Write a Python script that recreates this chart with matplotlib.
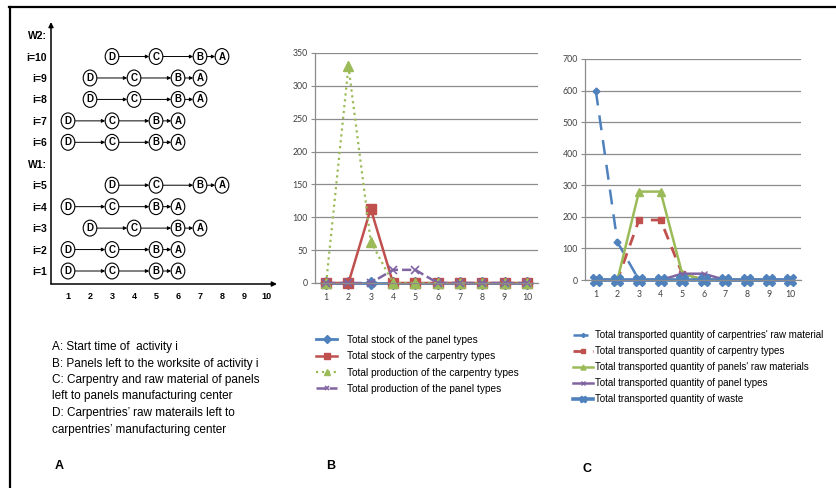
"""Three-panel figure: (A) activity schedule diagram, (B) stock/production,
(C) transported quantities per period."""

import matplotlib
matplotlib.use("Agg")
import matplotlib.pyplot as plt
from matplotlib.patches import Ellipse
from matplotlib.lines import Line2D

# Data ######################################################################

# Panel A: event times (D -> C -> B -> A) for activities i=1..10
activities = ["i=1", "i=2", "i=3", "i=4", "i=5", "i=6", "i=7", "i=8", "i=9", "i=10"]
time_D = [1, 1, 2, 1, 3, 1, 1, 2, 2, 3]
time_C = [3, 3, 4, 3, 5, 3, 3, 4, 4, 5]
time_B = [5, 5, 6, 5, 7, 5, 5, 6, 6, 7]
time_A = [6, 6, 7, 6, 8, 6, 6, 7, 7, 8]
row_labels = ["i=1", "i=2", "i=3", "i=4", "i=5", "W1:",
              "i=6", "i=7", "i=8", "i=9", "i=10", "W2:"]
time_ticks = [1, 2, 3, 4, 5, 6, 7, 8, 9, 10]

legend_A = ("A: Start time of  activity i\n"
            "B: Panels left to the worksite of activity i\n"
            "C: Carpentry and raw material of panels\n"
            "left to panels manufacturing center\n"
            "D: Carpentries\u2019 raw materails left to\n"
            "carpentries\u2019 manufacturing center")

# Panel B
periods = [1, 2, 3, 4, 5, 6, 7, 8, 9, 10]
stock_panel = [0, 0, 0, 0, 0, 0, 0, 0, 0, 0]
stock_carpentry = [0, 0, 113, 0, 0, 0, 0, 0, 0, 0]
prod_carpentry = [0, 330, 63, 0, 0, 0, 0, 0, 0, 0]
prod_panel = [0, 0, 0, 20, 20, 0, 0, 0, 0, 0]

# Panel C
trans_carp_raw = [600, 120, 0, 0, 0, 0, 0, 0, 0, 0]
trans_carp_types = [0, 0, 190, 190, 20, 0, 0, 0, 0, 0]
trans_panel_raw = [0, 0, 280, 280, 20, 0, 0, 0, 0, 0]
trans_panel_types = [0, 0, 0, 0, 20, 20, 0, 0, 0, 0]
trans_waste = [0, 0, 0, 0, 0, 0, 0, 0, 0, 0]

# Layout helpers ############################################################

W, H = 837, 488
fig = plt.figure(figsize=(W / 100, H / 100), dpi=100)


def rect(l, t, r, b):
    return [l / W, 1 - b / H, (r - l) / W, (b - t) / H]


BLUE, RED, GREEN, PURPLE = "#4F81BD", "#C0504D", "#9BBB59", "#8064A2"
ARIAL = ["Liberation Sans", "DejaVu Sans"]
NARROW = ["Liberation Sans Narrow", "Liberation Sans", "DejaVu Sans"]
TICKF = ["Lato", "DejaVu Sans"]

# frame (left and top only)
fig.add_artist(Line2D([9.5 / W, 9.5 / W], [0, 1 - 7 / H], color="black", lw=1.6,
                      transform=fig.transFigure))
fig.add_artist(Line2D([9 / W, 1], [1 - 7 / H, 1 - 7 / H], color="black", lw=1.6,
                      transform=fig.transFigure))

# Panel A ###################################################################

axA = fig.add_axes(rect(51, 22, 277, 284))
axA.set_xlim(0.227, 10.5)
axA.set_ylim(-0.606, 11.61)
for s in axA.spines.values():
    s.set_visible(False)
arrow = dict(arrowstyle="-|>", lw=1.1, color="black", mutation_scale=7,
             shrinkA=0, shrinkB=0)
axA.annotate("", xy=(1, 0), xytext=(0, 0), xycoords="axes fraction", arrowprops=arrow)
axA.annotate("", xy=(0, 1), xytext=(0, 0), xycoords="axes fraction", arrowprops=arrow)
axA.set_xticks(time_ticks)
axA.set_xticklabels([str(t) for t in time_ticks], fontweight="bold",
                    fontsize=6.5, family=ARIAL)
axA.set_yticks(range(len(row_labels)))
axA.set_yticklabels(row_labels, fontweight="bold", fontsize=7.5, family=ARIAL)
axA.tick_params(length=0)
axA.tick_params(axis="x", pad=6)
axA.tick_params(axis="y", pad=3)

rx, ry = 0.62, 0.74
for i, name in enumerate(activities):
    slot = row_labels.index(name)
    events = [(time_D[i], "D"), (time_C[i], "C"), (time_B[i], "B"), (time_A[i], "A")]
    for (x0, _), (x1, _) in zip(events[:-1], events[1:]):
        axA.annotate("", xy=(x1 - rx / 2, slot), xytext=(x0 + rx / 2, slot),
                     arrowprops=dict(arrowstyle="-|>", lw=0.7, color="black",
                                     mutation_scale=5, shrinkA=0, shrinkB=0))
    for x, letter in events:
        axA.add_patch(Ellipse((x, slot), rx, ry, facecolor="white",
                              edgecolor="black", lw=0.8, zorder=3))
        axA.text(x, slot, letter, ha="center", va="center", fontsize=7,
                 fontweight="bold", family=ARIAL, zorder=4)

fig.text(52 / W, 1 - 341 / H, legend_A, ha="left", va="top", fontsize=8.5,
         linespacing=1.5, family=NARROW)
fig.text(55 / W, 1 - 466 / H, "A", ha="left", va="center", fontsize=9,
         fontweight="bold", family=ARIAL)


# Line-chart styling ########################################################

def style_chart(ax, ymax, ystep):
    ax.set_xlim(0.5, 10.5)
    ax.set_ylim(0, ymax)
    ax.set_yticks(range(0, ymax + 1, ystep))
    ax.set_xticks(periods)
    ax.grid(axis="y", color="#8c8c8c", lw=0.9)
    ax.set_axisbelow(True)
    for side in ("top", "right"):
        ax.spines[side].set_visible(False)
    for side in ("left", "bottom"):
        ax.spines[side].set_color("#8c8c8c")
        ax.spines[side].set_linewidth(0.9)
    ax.tick_params(length=3, color="#8c8c8c", labelsize=6.3, labelcolor="#404040",
                   pad=2)
    ax.tick_params(axis="x", pad=4)
    for lbl in ax.get_xticklabels() + ax.get_yticklabels():
        lbl.set_family(TICKF)


# Panel B ###################################################################

axB = fig.add_axes(rect(315, 53, 538, 283))
style_chart(axB, 350, 50)
axB.plot(periods, stock_panel, color=BLUE, lw=2, marker="D", ms=6.5,
         label="Total stock of the panel types", clip_on=False)
axB.plot(periods, stock_carpentry, color=RED, lw=1.8, marker="s", ms=6.5,
         label="Total stock of the carpentry types", clip_on=False)
axB.plot(periods, prod_carpentry, color=GREEN, lw=1.6, ls=":", marker="^", ms=6.5,
         label="Total production of the carpentry types", clip_on=False)
axB.plot(periods, prod_panel, color=PURPLE, lw=1.8, ls="--", marker="x", ms=6,
         mew=1.2, label="Total production of the panel types", clip_on=False)
axB.legend(loc="upper left", bbox_to_anchor=(316 / W, 1 - 335 / H),
           bbox_transform=fig.transFigure, frameon=False,
           handlelength=2.1, handletextpad=1.0, labelspacing=0.62,
           borderaxespad=0, borderpad=0, markerscale=0.6,
           prop=dict(family=NARROW, size=7.3))
fig.text(326 / W, 1 - 466 / H, "B", ha="left", va="center", fontsize=9,
         fontweight="bold", family=ARIAL)

# Panel C ###################################################################

axC = fig.add_axes(rect(585, 59, 801, 280))
style_chart(axC, 700, 100)
axC.plot(periods, trans_carp_raw, color=BLUE, lw=1.8, ls=(0, (6, 4)), marker="D",
         ms=3.5, label="Total transported quantity of carpentries' raw material",
         clip_on=False)
axC.plot(periods, trans_carp_types, color=RED, lw=2, ls=(0, (4, 3)), marker="s",
         ms=5, label="Total transported quantity of carpentry types", clip_on=False)
axC.plot(periods, trans_panel_raw, color=GREEN, lw=1.8, marker="^", ms=6,
         label="Total transported quantity of panels' raw materials", clip_on=False)
axC.plot(periods, trans_panel_types, color=PURPLE, lw=1.8, marker="x", ms=5,
         label="Total transported quantity of panel types", clip_on=False)
axC.plot(periods, trans_waste, color=BLUE, lw=2.6, marker="X", ms=8,
         label="Total transported quantity of waste", clip_on=False)
axC.legend(loc="upper left", bbox_to_anchor=(573 / W, 1 - 330 / H),
           bbox_transform=fig.transFigure, frameon=False,
           handlelength=2.1, handletextpad=0.2, labelspacing=0.62,
           borderaxespad=0, borderpad=0, markerscale=0.6,
           prop=dict(family=NARROW, size=7.0))
fig.text(583 / W, 1 - 469 / H, "C", ha="left", va="center", fontsize=9,
         fontweight="bold", family=ARIAL)

fig.savefig("out.png", dpi=100)
